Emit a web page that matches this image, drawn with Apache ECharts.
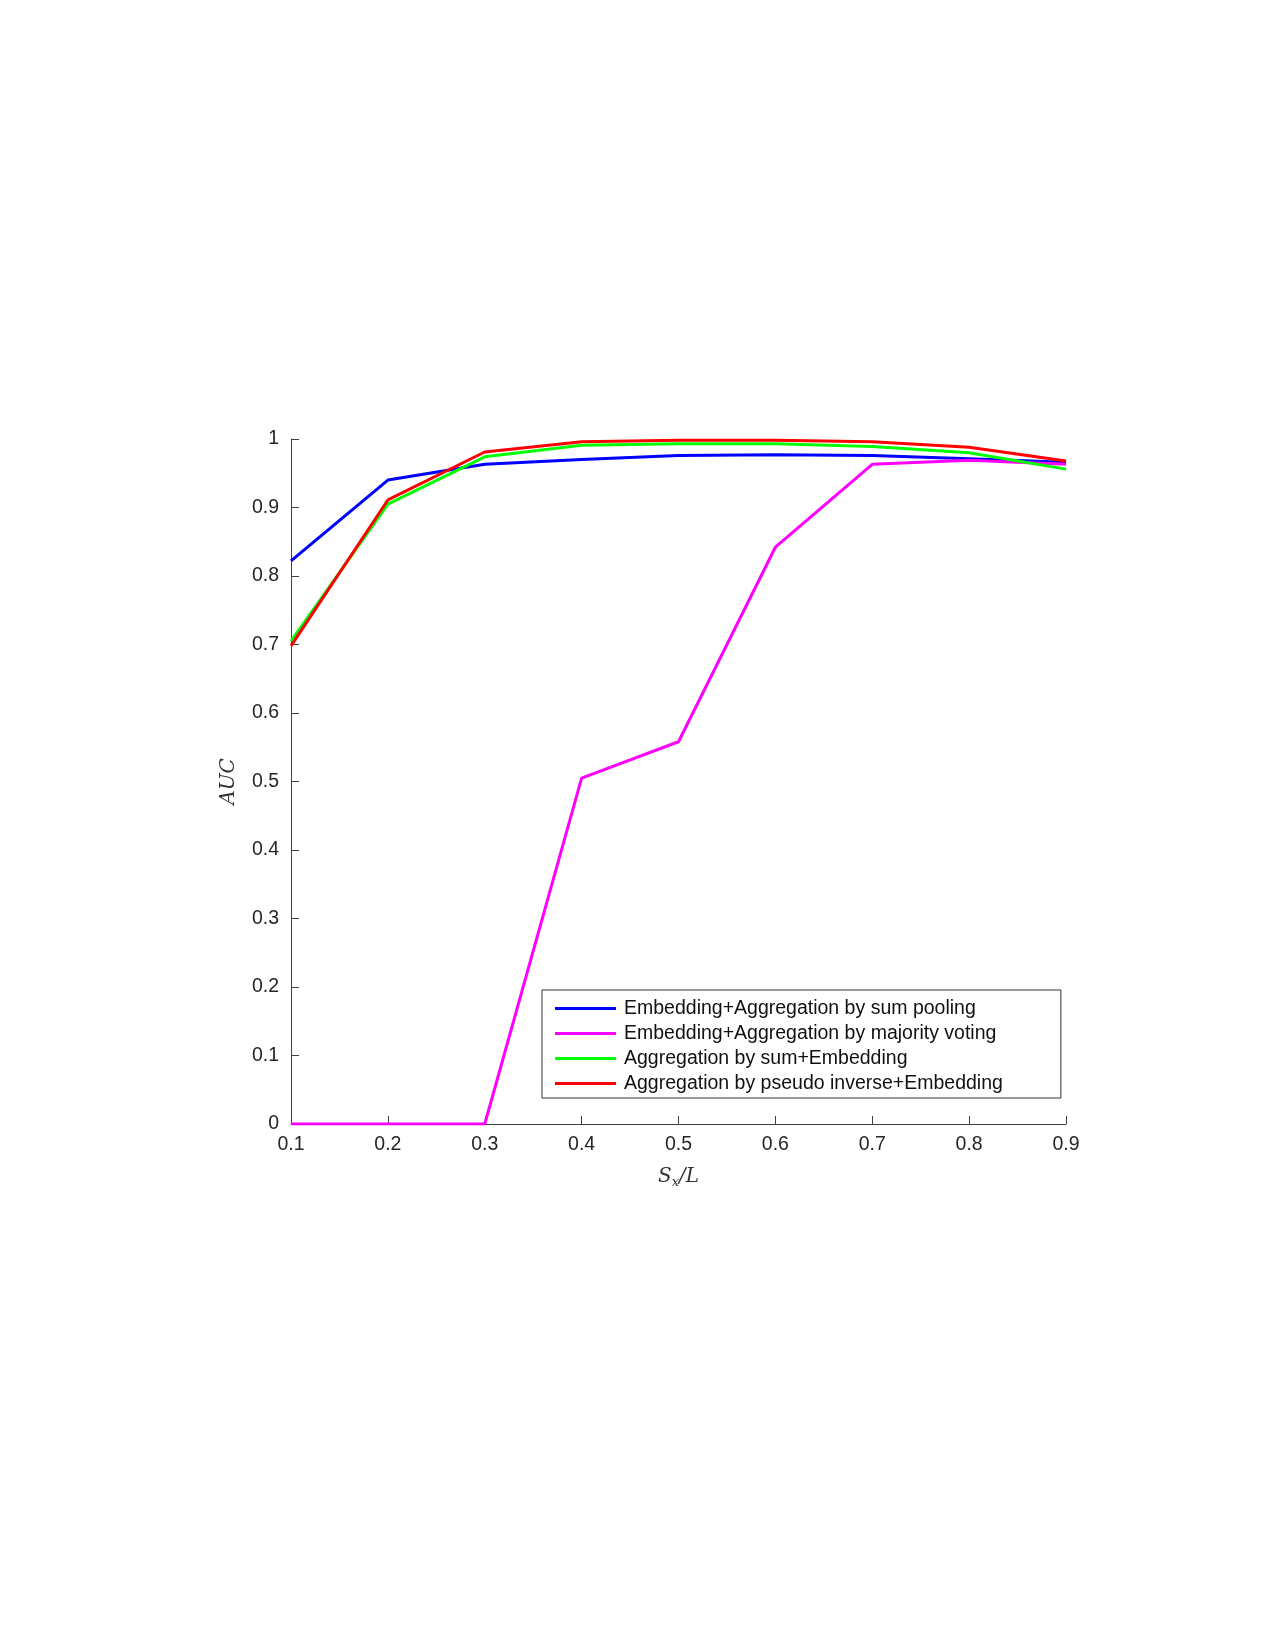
<!DOCTYPE html>
<html>

<head>
    <meta charset="UTF-8">
    <title>AUC</title>
    <script type="text/javascript" src="https://cdn.jsdelivr.net/npm/echarts@6/dist/echarts.min.js"></script>
    <style>
        html, body { margin: 0; padding: 0; background: #fff; }
    </style>
</head>

<body>

<div id="main" style="width: 1275px;height:1650px;"></div>
<script type="text/javascript">
    // data
    var xValues = [0.1, 0.2, 0.3, 0.4, 0.5, 0.6, 0.7, 0.8, 0.9];
    var sumPooling = [0.822, 0.940, 0.963, 0.970, 0.976, 0.977, 0.976, 0.971, 0.966];
    var majorityVoting = [0, 0, 0, 0.505, 0.558, 0.842, 0.963, 0.969, 0.963];
    var sumEmbedding = [0.705, 0.905, 0.974, 0.991, 0.993, 0.993, 0.989, 0.980, 0.956];
    var pseudoInverse = [0.698, 0.911, 0.981, 0.996, 0.998, 0.998, 0.996, 0.988, 0.968];
    var seriesNames = [
        'Embedding+Aggregation by sum pooling',
        'Embedding+Aggregation by majority voting',
        'Aggregation by sum+Embedding',
        'Aggregation by pseudo inverse+Embedding'
    ];
    var seriesColors = ['#0000ff', '#ff00ff', '#00ff00', '#ff0000'];
    var allValues = [sumPooling, majorityVoting, sumEmbedding, pseudoInverse];

    function pairs(ys) {
        return xValues.map(function (x, i) { return [x, ys[i]]; });
    }

    var myChart = echarts.init(document.getElementById('main'));

    var axisColor = '#404040';
    var font = 'Liberation Sans, Arial, sans-serif';

    var option = {
        animation: false,
        backgroundColor: '#fff',
        grid: {
            left: 291,
            right: 209,
            top: 439,
            bottom: 526
        },
        legend: {
            orient: 'vertical',
            left: 542,
            top: 990,
            padding: [6, 58, 2, 13],
            itemGap: 0,
            itemWidth: 61,
            itemHeight: 3,
            icon: 'rect',
            borderColor: '#333',
            borderWidth: 1,
            backgroundColor: '#fff',
            textStyle: {
                fontFamily: font,
                fontSize: 19.5,
                color: '#111',
                lineHeight: 25,
                padding: [0, 0, 0, 3]
            },
            data: seriesNames
        },
        xAxis: {
            type: 'value',
            min: 0.1,
            max: 0.9,
            interval: 0.1,
            name: '{i|S}{sub|x}{i|/L}',
            nameLocation: 'middle',
            nameGap: 40,
            nameTextStyle: {
                rich: {
                    i: { fontFamily: 'DejaVu Serif, serif', fontStyle: 'italic', fontSize: 20, color: '#333' },
                    sub: { fontFamily: 'DejaVu Serif, serif', fontStyle: 'italic', fontSize: 13, color: '#333', padding: [12, 0, 0, 0] }
                }
            },
            axisLine: { show: true, lineStyle: { color: axisColor, width: 1 } },
            axisTick: { show: true, inside: true, length: 8, lineStyle: { color: axisColor } },
            axisLabel: {
                margin: 11,
                fontFamily: font,
                fontSize: 19.5,
                color: '#262626',
                formatter: function (v) { return v.toFixed(1); }
            },
            splitLine: { show: false }
        },
        yAxis: {
            type: 'value',
            min: 0,
            max: 1,
            interval: 0.1,
            name: 'AUC',
            nameLocation: 'middle',
            nameGap: 52,
            nameTextStyle: {
                fontFamily: 'DejaVu Serif, serif',
                fontStyle: 'italic',
                fontSize: 20,
                color: '#333'
            },
            axisLine: { show: true, lineStyle: { color: axisColor, width: 1 } },
            axisTick: { show: true, inside: true, length: 8, lineStyle: { color: axisColor } },
            axisLabel: {
                margin: 12,
                fontFamily: font,
                fontSize: 19.5,
                color: '#262626',
                formatter: function (v) { return Math.round(v * 10) / 10 + ''; }
            },
            splitLine: { show: false }
        },
        series: seriesNames.map(function (name, k) {
            return {
                name: name,
                type: 'line',
                data: pairs(allValues[k]),
                showSymbol: false,
                symbol: 'none',
                color: seriesColors[k],
                lineStyle: { width: 3, color: seriesColors[k] },
                z: 2 + k
            };
        })
    };

    myChart.setOption(option);
</script>
</body>

</html>
